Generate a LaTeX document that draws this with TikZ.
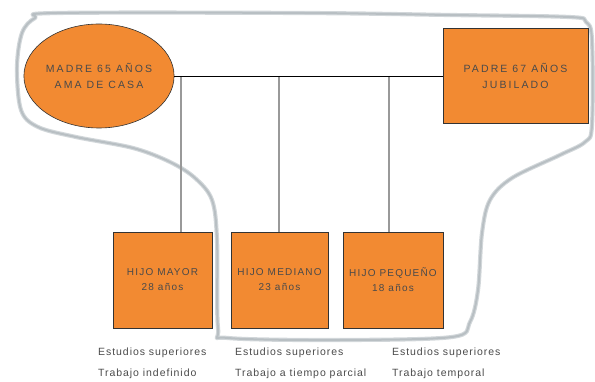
\documentclass[tikz,border=0pt]{standalone}
\usepackage{fontspec}
\setmainfont{Liberation Sans}
\usetikzlibrary{shapes.geometric}
\definecolor{naranja}{HTML}{F28A32}
\definecolor{contorno}{HTML}{D2D7DA}
\definecolor{contornoint}{HTML}{B8BFC3}
\definecolor{texto}{HTML}{4A4A4A}
\tikzset{
  persona/.style={fill=naranja, draw=black!80, line width=0.6pt, align=center,
    text=texto, font=\fontsize{10.5}{16.5}\selectfont\addfontfeatures{LetterSpace=20}, inner sep=0pt},
  hijobox/.style={persona, rectangle, minimum width=98pt, minimum height=96pt,
    font=\fontsize{10}{15}\selectfont\addfontfeatures{LetterSpace=12}},
  rama/.style={draw=black!40, line width=1.4pt},
  pareja/.style={draw=black, line width=0.9pt},
  nota/.style={anchor=west, inner sep=0pt, text=texto,
    font=\fontsize{10.5}{12}\selectfont\addfontfeatures{LetterSpace=9}},
  grupo/.style={draw=contorno, line width=4.2pt, line join=round},
  grupoint/.style={draw=contornoint, line width=2pt, line join=round}
}
\begin{document}
\begin{tikzpicture}[x=1pt,y=-1pt]
\useasboundingbox (0,0) rectangle (595,382);
% outline
\def\contornopts{(57,13) (304,13) (450,15) (569,17) (586,22) (592,40) (592,125) (585,142)
 (560,155) (512,178) (490,200) (482,233) (478,290) (470,322) (452,337)
 (340,340) (228,338) (218,328) (217,240) (212,200) (195,178) (170,162)
 (133,148) (76,137) (38,127) (21,110) (17,67) (22,33) (35,18)}
\draw[grupo] plot[smooth cycle, tension=0.55] coordinates {\contornopts};
\draw[grupoint] plot[smooth cycle, tension=0.55] coordinates {\contornopts};
% parents
\node[persona, ellipse, minimum width=140pt, minimum height=104pt] (madre) at (99,76)
  {MADRE 65 AÑOS\\AMA DE CASA};
\node[persona, rectangle, minimum width=145pt, minimum height=95pt] (padre) at (515.5,76)
  {PADRE 67 AÑOS\\JUBILADO};
% children
\node[hijobox, minimum width=99pt] (hijo1) at (162.5,280) {HIJO MAYOR\\28 años};
\node[hijobox, minimum width=97pt] (hijo2) at (279.5,280) {HIJO MEDIANO\\23 años};
\node[hijobox, minimum width=100pt] (hijo3) at (393,280) {HIJO PEQUEÑO\\18 años};
% connectors
\coordinate (j1) at (181,76);
\coordinate (j2) at (279,76);
\coordinate (j3) at (389,76);
\draw[rama] (j1) -- (j1 |- hijo1.north);
\draw[rama] (j2) -- (j2 |- hijo2.north);
\draw[rama] (j3) -- (j3 |- hijo3.north);
\draw[pareja] (madre.east) -- (padre.west);
% notes
\node[nota] (n1a) at (98,353) {Estudios superiores};
\node[nota] (n1b) at (98,374) {Trabajo indefinido};
\node[nota] (n2a) at (235,353) {Estudios superiores};
\node[nota] (n2b) at (235,374) {Trabajo a tiempo parcial};
\node[nota] (n3a) at (392,353) {Estudios superiores};
\node[nota] (n3b) at (392,374) {Trabajo temporal};
\end{tikzpicture}
\end{document}
